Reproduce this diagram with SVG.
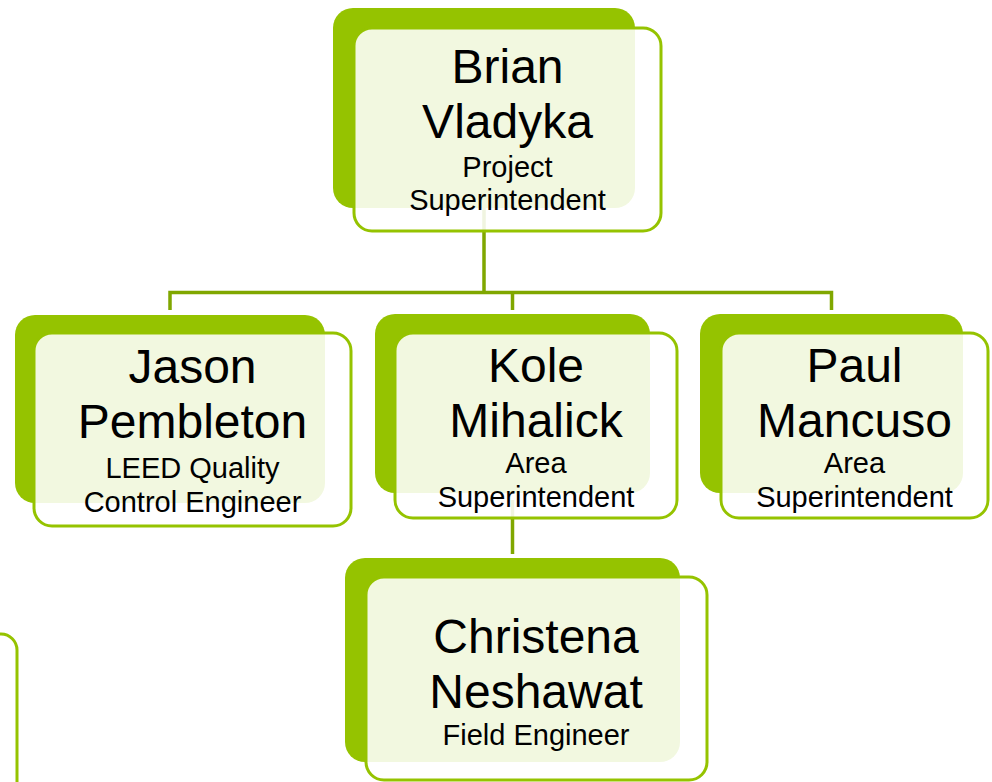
<svg xmlns="http://www.w3.org/2000/svg" width="992" height="782" viewBox="0 0 992 782">
<style>
.back{fill:#95c300}
.front{fill:#ffffff;fill-opacity:0.88;stroke:#95c300;stroke-width:3}
.conn{fill:none;stroke:#80a700;stroke-width:3.5}
text{font-family:"Liberation Sans",Arial,sans-serif;fill:#000;text-anchor:middle}
.big{font-size:48px}
.small{font-size:29px}
</style>
<rect width="992" height="782" fill="#ffffff"/>
<g id="connectors">
<path class="conn" d="M484,200 V292.5 M170,310 V292.5 H831.5 V310 M512.5,292.5 V310"/>
<path class="conn" d="M512.5,500 V554"/>
</g>
<g id="node-brian">
<rect class="back" x="333" y="8" width="302" height="200" rx="20"/>
<rect class="front" x="354" y="28" width="307" height="203" rx="18"/>
<text class="big" x="507.5" y="83">Brian</text>
<text class="big" x="507.5" y="138">Vladyka</text>
<text class="small" x="507.5" y="177">Project</text>
<text class="small" x="507.5" y="210">Superintendent</text>
</g>
<g id="node-jason">
<rect class="back" x="15" y="315" width="310" height="188" rx="20"/>
<rect class="front" x="34" y="333" width="317" height="193" rx="18"/>
<text class="big" x="192.5" y="383">Jason</text>
<text class="big" x="192.5" y="438">Pembleton</text>
<text class="small" x="192.5" y="478">LEED Quality</text>
<text class="small" x="192.5" y="512">Control Engineer</text>
</g>
<g id="node-kole">
<rect class="back" x="375" y="314" width="275" height="179" rx="20"/>
<rect class="front" x="395" y="333" width="282" height="185" rx="18"/>
<text class="big" x="536" y="382">Kole</text>
<text class="big" x="536" y="437">Mihalick</text>
<text class="small" x="536" y="473">Area</text>
<text class="small" x="536" y="507">Superintendent</text>
</g>
<g id="node-paul">
<rect class="back" x="700" y="314" width="263" height="179" rx="20"/>
<rect class="front" x="721" y="333" width="267" height="185" rx="18"/>
<text class="big" x="854.5" y="382">Paul</text>
<text class="big" x="854.5" y="437">Mancuso</text>
<text class="small" x="854.5" y="473">Area</text>
<text class="small" x="854.5" y="507">Superintendent</text>
</g>
<g id="node-christena">
<rect class="back" x="345" y="558" width="335" height="204" rx="20"/>
<rect class="front" x="366" y="577" width="341" height="203" rx="18"/>
<text class="big" x="536" y="653">Christena</text>
<text class="big" x="536" y="708">Neshawat</text>
<text class="small" x="536" y="745">Field Engineer</text>
</g>
<g id="node-partial">
<rect class="front" x="-400" y="634" width="417" height="400" rx="16"/>
</g>
</svg>
